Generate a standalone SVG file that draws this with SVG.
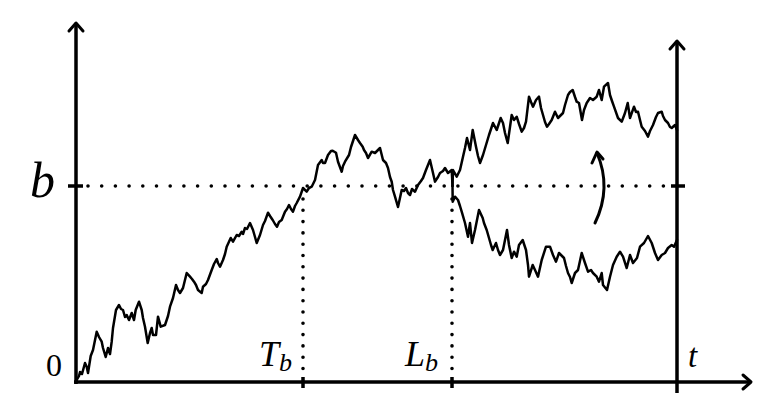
<svg xmlns="http://www.w3.org/2000/svg" width="774" height="412" viewBox="0 0 774 412">
<style>
.axis{fill:none;stroke:#000;stroke-width:3.5;stroke-linecap:butt}
.head{fill:none;stroke:#000;stroke-width:3;stroke-linecap:round;stroke-linejoin:round}
.dotsh{fill:none;stroke:#000;stroke-width:3.6;stroke-linecap:round;stroke-dasharray:0 13.7}
.dotsv{fill:none;stroke:#000;stroke-width:3.6;stroke-linecap:round;stroke-dasharray:0 11.3}
.bm{fill:none;stroke:#000;stroke-width:2.5;stroke-linejoin:round;stroke-linecap:round}
.lbl{font-family:"Liberation Serif","DejaVu Serif",serif;fill:#000}
.it{font-style:italic}
</style>
<rect width="774" height="412" fill="#fff"/>
<g id="axes">
<line class="axis" x1="76" y1="384" x2="76" y2="24"/>
<polyline class="head" points="69,31 76,23 83,31"/>
<line class="axis" x1="74" y1="382" x2="750" y2="382"/>
<polyline class="head" points="743,375 751,382 743,389"/>
<line class="axis" x1="677" y1="393" x2="677" y2="42"/>
<polyline class="head" points="670,49 677,41 684,49"/>
<line class="axis" x1="68" y1="186" x2="83" y2="186"/>
<line class="axis" x1="671" y1="186" x2="685" y2="186"/>
<line class="axis" x1="303" y1="377" x2="303" y2="388"/>
<line class="axis" x1="452" y1="377" x2="452" y2="388"/>
</g>
<g id="guides">
<line class="dotsh" x1="88" y1="186" x2="672" y2="186"/>
<line class="dotsv" x1="303" y1="199" x2="303" y2="376"/>
<line class="dotsv" x1="452" y1="199" x2="452" y2="376"/>
</g>
<g id="path">
<polyline class="bm" points="76.7,380 79,376 80,372 82,374 85,363 86.7,366.7 88,373 90.7,356 93,350 96.7,331.7 99,337 101.7,341.7 103,348 105.7,357 108,348 110,354 111.7,341.7 113,328 116,310 119,305 121,309 123,310 125,317 126.7,315 129,320 131.7,313 134,320 135.7,310 139,301.7 141.7,310 143,318 145,326.7 147.7,343 150,333 151.7,328 153,335 156,335 158,316.7 160.7,326.7 165,325 168,316 170,306.7 173,298 176,285 178,290 180,293 183,288 186.7,273 190,276.7 192,279 194,281.7 196,285 198,290 201.7,293 203,286.7 206,284 208,280 211.7,270 214,264 216.7,259 218,263 220,266.7 223,260 225,254 226.7,246.7 230.7,238 233,241.7 236.7,235 239,236 241.7,231.7 243,234 245,228 247,229 250,223 253,230 255,237 256.7,243 260,235 263,225 265,221 268,212.7 270,216 272.7,220 275,224 277,226.7 279,222 281.7,220 285,211.7 287,209 289,205 291,209 293,211.7 295,206 296.7,203 300,196.7 303,188 306.7,191.7 309,188 311.7,186.7 315,180 318,165 321.7,160 323,163 325,163 328,155 331,151 332.7,150.7 336,152.7 338,161.7 341.7,171.7 343,166 345,161.7 349,155 351,147 355,135 358,140 360,143 362.7,146.7 364,150 366,153 368,158 371.7,151.7 375,153 378,150 380,148 383,160 386,163 388,168 390,177 391.7,181.7 393,190 395,196.7 398,207 401.7,190 404,191 406,188 408,193 410,195 412,189 415,191.7 418,185 421,181 423,178 426,170 430,160 433,173 435,181.7 438,177 440,173 443,171 445,168 448,173 451.7,170 452.5,186"/>
<polyline class="bm" points="452.5,186 453,170 456.7,176.7 460,170 463,156.7 465,148 467,138 470,150 472.7,130 476,146.7 478,156 480,163 483,155 486,145 489,135 493,123 496.7,130 500.7,118 503,123 505,133 507.7,143 511.7,115 514,120 516.7,116.7 519,124 521.7,131.7 524,128 526,121.7 529,96.7 531,102 533,106.7 536,100 539,96.7 541,108 543,115 545,122 547,126.7 549,124 551.7,120 555,111.7 558,118 561,115 563,113 565,105 568,95 570,92 572.7,90 575,97 576.7,101.7 579,103 582,120 584,110 586.7,103 590,98 593,100 596.7,96.7 599,90 601.7,100 604,86.7 608,83 610,95 612,101 614,106.7 618,118 621.7,121.7 625,113 627.7,103 630,118 634,106.7 636,112 638,111.7 640,120 641.7,126.7 645,131 648,136.7 650,131 653,125 656,117 658,113 661.7,111.7 663,116 665,120 668,123 670,127 671.7,128 675,125 677,130"/>
<polyline class="bm" points="452.5,186 452.7,201.7 455,196.7 458,200 460,206 461.7,211.7 465,223 468,236.7 470,223 472,243 475,230 477,220 479,210 482.7,218 484,223 486.7,230 489,238 491,245 492.7,250 496,243 498,250 500,255 503,250 505,240 507,230 509,245 511.7,258 514,251.7 516.7,256.7 519,245 522.7,240 524,244 526,250 528,265 529,276.7 532.7,265 535,270 538,276.7 541.7,260 546,246.7 550,246.7 553,255 556,261.7 559,253 562,256 564,258 566,266 568,273 570,277 571.7,283 575,273 578,270 581.7,253 585,263 588,271.7 591,270 593,273 596.7,276.7 599,281.7 601.7,273 603,285 607,290 610,276.7 613,265 616.7,256.7 620,251.7 623,256.7 626.7,268 630,255 633,263 637,258 640,246.7 644,243 648,236 651.7,243 655,253 658,260 661.7,255 665,253 668,248 671.7,245 674,246.7 677,240"/>
</g>
<g id="arrow">
<path class="head" d="M595,223 Q612,188 597,153" stroke-width="3.8"/>
<polyline class="head" points="592,163 597,152 603,159" stroke-width="3.8"/>
</g>
<g id="labels">
<text class="lbl it" x="30" y="197" font-size="50">b</text>
<text class="lbl" x="46" y="376" font-size="32">0</text>
<text class="lbl it" x="259" y="366" font-size="36">T<tspan font-size="26" dy="5">b</tspan></text>
<text class="lbl it" x="405" y="366" font-size="36">L<tspan font-size="26" dy="5">b</tspan></text>
<text class="lbl it" x="688" y="367" font-size="33">t</text>
</g>
</svg>
